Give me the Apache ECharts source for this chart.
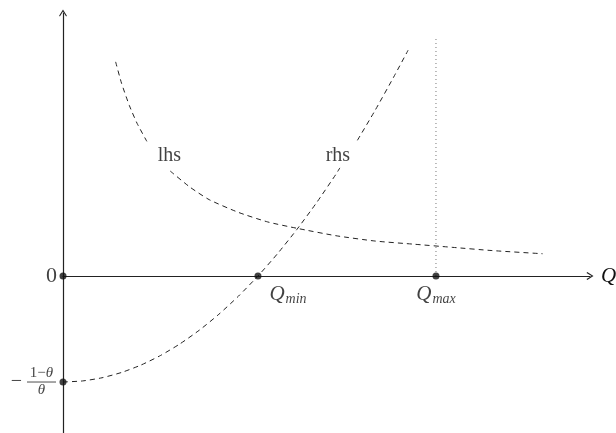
<!DOCTYPE html>
<html>
<head>
<meta charset="utf-8">
<script src="https://cdn.jsdelivr.net/npm/echarts@6/dist/echarts.min.js"></script>
<style>
  html, body { margin: 0; padding: 0; background: #fff; }
  #chart { width: 616px; height: 433px; }
</style>
</head>
<body>
<div id="chart"></div>
<script>
// units: x in multiples of Q_min, y in multiples of (1-θ)/θ
// rhs curve (gap where the "rhs" label sits)
const rhsX = [0, 0.1, 0.2, 0.3, 0.4, 0.5, 0.6, 0.7, 0.8, 0.9, 1.0, 1.1, 1.2, 1.3, 1.4, 1.42, null, 1.51, 1.6, 1.7, 1.77]
const rhsY = [-1, -0.99, -0.96, -0.91, -0.84, -0.75, -0.64, -0.51, -0.36, -0.19, 0, 0.21, 0.44, 0.69, 0.96, 1.02, null, 1.28, 1.56, 1.89, 2.13]

// lhs curve (gap where the "lhs" label sits)
const lhsX = [0.27, 0.30, 0.34, 0.38, 0.43, null, 0.55, 0.65, 0.75, 0.9, 1.05, 1.2, 1.4, 1.6, 1.8, 2.0, 2.2, 2.46]
const lhsY = [2.02, 1.82, 1.61, 1.44, 1.27, null, 0.99, 0.84, 0.72, 0.60, 0.51, 0.45, 0.38, 0.33, 0.30, 0.27, 0.24, 0.21]

// marked points on the axes
const pointX = [0, 1, 1.913, 0]
const pointY = [0, 0, 0, -1]

// dotted guide at Q_max
const guideX = [1.913, 1.913]
const guideY = [0, 2.255]

// curve names
const curveNames = ['lhs', 'rhs']
const curveLabelX = [0.546, 1.41]
const curveLabelY = [1.13, 1.13]

const serif = 'Liberation Serif'
const ink = '#111'
const arrow = 'path://M5,0 L10,8 L9,9 L5,2.5 L1,9 L0,8 Z'

const pairs = (xs, ys) => xs.map((x, i) => (x === null ? [null, null] : [x, ys[i]]))

const chart = echarts.init(document.getElementById('chart'))

const axisBase = {
  type: 'value',
  axisTick: { show: false },
  axisLabel: { show: false },
  splitLine: { show: false },
  axisLine: {
    onZero: true,
    symbol: ['none', arrow],
    symbolSize: [8, 7],
    lineStyle: { color: '#222', width: 1.2 },
  },
}

const dashed = { color: '#222', width: 1, type: [5, 4] }

const subRich = {
  q: { fontFamily: serif, fontStyle: 'italic', fontSize: 21, color: ink },
  s: { fontFamily: serif, fontStyle: 'italic', fontSize: 14, color: ink, padding: [10, 0, 0, 1] },
}

const option = {
  animation: false,
  grid: { left: 63, right: 26, top: 13, bottom: 0, outerBoundsMode: 'none' },
  xAxis: {
    ...axisBase,
    min: 0,
    max: 2.703,
    name: 'Q',
    nameLocation: 'end',
    nameGap: 11,
    nameTextStyle: { fontFamily: serif, fontStyle: 'italic', fontSize: 21, color: ink, verticalAlign: 'middle', padding: [6, 0, 0, 0] },
  },
  yAxis: {
    ...axisBase,
    min: -1.481,
    max: 2.481,
  },
  series: [
    {
      name: 'rhs',
      type: 'line',
      data: pairs(rhsX, rhsY),
      showSymbol: false,
      smooth: 0.2,
      connectNulls: false,
      lineStyle: dashed,
      silent: true,
    },
    {
      name: 'lhs',
      type: 'line',
      data: pairs(lhsX, lhsY),
      showSymbol: false,
      smooth: 0.2,
      connectNulls: false,
      lineStyle: dashed,
      silent: true,
    },
    {
      name: 'guide',
      type: 'line',
      data: pairs(guideX, guideY),
      showSymbol: false,
      lineStyle: { color: '#777', width: 1, type: [1, 3] },
      silent: true,
    },
    {
      name: 'points',
      type: 'scatter',
      data: pairs(pointX, pointY),
      symbolSize: 7,
      itemStyle: { color: ink },
      z: 5,
      silent: true,
    },
    {
      // names of the two curves
      name: 'curveNames',
      type: 'scatter',
      symbolSize: 0,
      data: curveNames.map((n, i) => ({ name: n, value: [curveLabelX[i], curveLabelY[i]] })),
      label: {
        show: true,
        position: 'inside',
        formatter: '{b}',
        fontFamily: serif,
        fontSize: 20,
        color: ink,
      },
      silent: true,
    },
    {
      // labels of the axis points
      name: 'pointLabels',
      type: 'scatter',
      symbolSize: 0,
      silent: true,
      label: { show: true, fontFamily: serif, color: ink },
      data: [
        {
          value: [pointX[0], pointY[0]],
          label: { position: 'left', distance: 6, formatter: '0', fontSize: 22 },
        },
        {
          value: [pointX[1], pointY[1]],
          label: { position: 'bottom', distance: 6, offset: [30, 0], formatter: '{q|Q}{s|min}', rich: subRich },
        },
        {
          value: [pointX[2], pointY[2]],
          label: { position: 'bottom', distance: 6, offset: [0, 0], formatter: '{q|Q}{s|max}', rich: subRich },
        },
        {
          value: [pointX[3], pointY[3]],
          label: { position: 'left', distance: 41, formatter: '−', fontSize: 20 },
        },
        {
          value: [pointX[3], pointY[3]],
          label: {
            position: 'left', distance: 7,
            formatter: '{n|1−}{t|θ}\n{b| }\n{t|θ}',
            rich: {
              n: { fontFamily: serif, fontSize: 15, color: ink, align: 'center', lineHeight: 13 },
              t: { fontFamily: serif, fontStyle: 'italic', fontSize: 15, color: ink, align: 'center', lineHeight: 13 },
              b: { width: 29, height: 1, lineHeight: 4, fontSize: 1, backgroundColor: '#222', align: 'center' },
            },
          },
        },
      ],
    },
  ],
}

chart.setOption(option)
</script>
</body>
</html>
